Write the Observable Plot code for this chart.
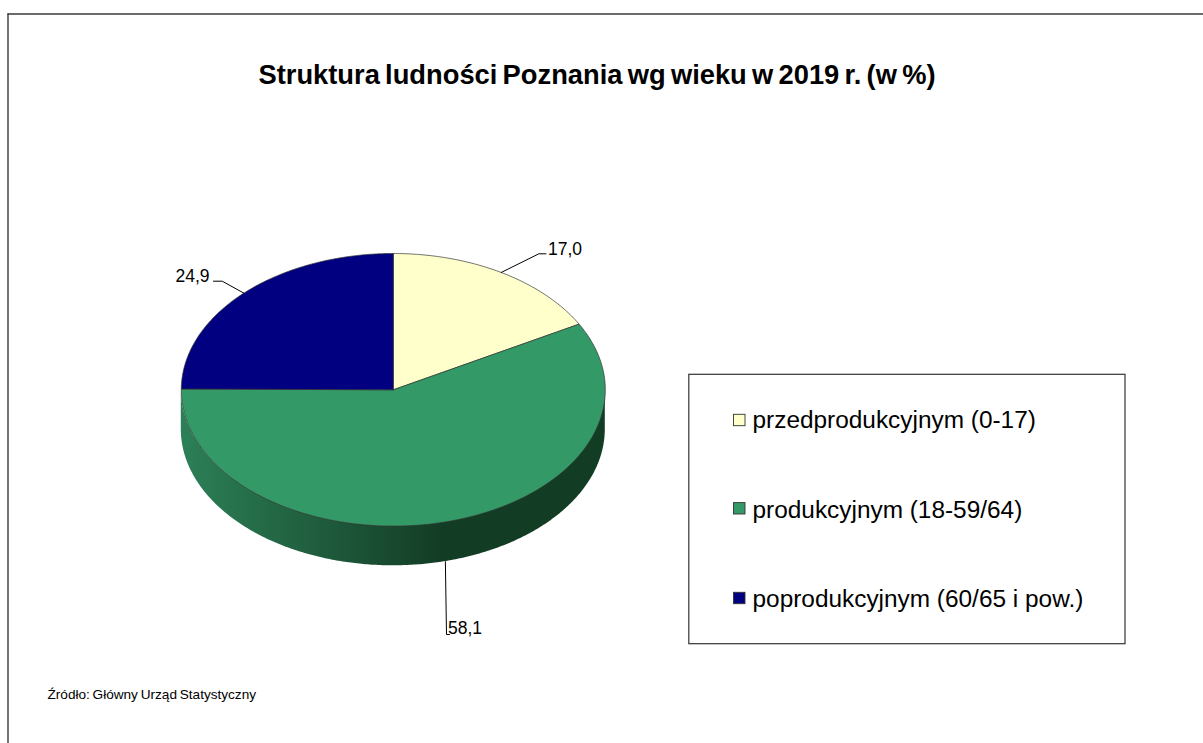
<!DOCTYPE html>
<html lang="pl">
<head>
<meta charset="utf-8">
<title>Struktura ludności Poznania</title>
<script src="https://cdn.jsdelivr.net/npm/d3@7"></script>
<script src="https://cdn.jsdelivr.net/npm/@observablehq/plot@0.6"></script>
<style>
html,body{margin:0;padding:0;background:#fff;overflow:hidden}
svg{display:block}
.title-text{word-spacing:-2.3px}
.source-text{word-spacing:-1px}
</style>
</head>
<body>
<div id="chart"></div>
<script>
const titleText = "Struktura ludności Poznania wg wieku w 2019 r. (w %)";
const sourceText = "Źródło: Główny Urząd Statystyczny";
const categories = ["przedprodukcyjnym (0-17)", "produkcyjnym (18-59/64)", "poprodukcyjnym (60/65 i pow.)"];
const shares = [17.0, 58.1, 24.9];
const shareLabels = ["17,0", "58,1", "24,9"];
const colors = ["#ffffcc", "#339966", "#000080"];

// pie geometry (the chart is laid out in page pixels)
const cx = 392.8, cy = 389.3, rx = 212, ry = 136.3, depth = 39.7;
const px = a => cx + rx * Math.sin(a);
const py = a => cy - ry * Math.cos(a);
const total = d3.sum(shares);
let acc = 0;
const slices = categories.map((c, i) => {
  const a0 = acc / total * 2 * Math.PI;
  acc += shares[i];
  return {category: c, label: shareLabels[i], a0, a1: acc / total * 2 * Math.PI};
});
const slicePoints = slices.flatMap(s => {
  const n = Math.max(2, Math.ceil((s.a1 - s.a0) / 0.01));
  const arc = d3.range(n + 1).map(k => {
    const a = s.a0 + (s.a1 - s.a0) * k / n;
    return {category: s.category, x: px(a), y: py(a)};
  });
  const hub = {category: s.category, x: cx, y: cy};
  return [hub, ...arc, hub];
});
const wallPoints = d3.range(0, 315).map(k => {
  const a = Math.PI / 2 + k * 0.01;
  return {x: px(a), y1: py(a), y2: py(a) + depth};
});
wallPoints.push({x: px(1.5 * Math.PI), y1: py(1.5 * Math.PI), y2: py(1.5 * Math.PI) + depth});

// leader lines run from the middle of each slice's rim to its label
const mid = s => (s.a0 + s.a1) / 2;
const leaders = [
  {id: 0, pts: [[px(mid(slices[0])), py(mid(slices[0]))], [538.3, 253.3], [545.5, 253.3]]},
  {id: 1, pts: [[px(mid(slices[1])), py(mid(slices[1])) + depth], [446, 634], [449, 634]]},
  {id: 2, pts: [[px(mid(slices[2])), py(mid(slices[2]))], [221.7, 280.7], [213, 280.7]]}
].flatMap(l => l.pts.map(([x, y]) => ({id: l.id, x, y})));
const labelsStart = [
  {t: shareLabels[0], x: 547.5, y: 249},
  {t: shareLabels[1], x: 447.5, y: 627.5}
];
const labelsEnd = [{t: shareLabels[2], x: 209, y: 276}];
const legendRows = categories.map((c, i) => ({category: c, y: [420, 508.3, 598][i], ty: [420, 510, 599][i]}));

const defsMark = () => {
  const defs = d3.create("svg:defs");
  const g = defs.append("linearGradient").attr("id", "wall")
    .attr("gradientUnits", "userSpaceOnUse")
    .attr("x1", cx - rx).attr("x2", cx + 50).attr("y1", 0).attr("y2", 0);
  g.append("stop").attr("offset", "0%").attr("stop-color", "#2c8057");
  g.append("stop").attr("offset", "100%").attr("stop-color", "#133c25");
  return defs.node();
};

const font = "'Liberation Sans', Arial, sans-serif";
const plot = Plot.plot({
  width: 1203, height: 743,
  marginTop: 0, marginRight: 0, marginBottom: 0, marginLeft: 0,
  x: {domain: [0, 1203], range: [0, 1203], axis: null},
  y: {domain: [0, 743], range: [0, 743], axis: null},
  color: {domain: categories, range: colors},
  style: {fontFamily: font, background: "#fff", color: "#000"},
  marks: [
    defsMark,
    // outer frame
    Plot.ruleY([13.5], {stroke: "#3a3a3a", strokeWidth: 1.4, x1: 7.5, x2: 1203}),
    Plot.ruleX([7.5], {stroke: "#3a3a3a", strokeWidth: 1.4, y1: 13.5, y2: 743}),
    // title
    Plot.text([titleText], {text: d => d, x: 596.5, y: 75, fontSize: 27.3, fontWeight: "bold", fill: "#000", textAnchor: "middle", className: "title-text"}),
    // pie wall and top
    Plot.areaY(wallPoints, {x: "x", y1: "y1", y2: "y2", fill: "url(#wall)", curve: "linear"}),
    Plot.line(slicePoints, {x: "x", y: "y", z: "category", fill: "category", stroke: "#333", strokeWidth: 0.7, curve: "linear"}),
    // leaders and value labels
    Plot.line(leaders, {x: "x", y: "y", z: "id", stroke: "#000", strokeWidth: 1, curve: "linear"}),
    Plot.text(labelsStart, {x: "x", y: "y", text: "t", textAnchor: "start", fontSize: 17.5, fill: "#000"}),
    Plot.text(labelsEnd, {x: "x", y: "y", text: "t", textAnchor: "end", fontSize: 17.5, fill: "#000"}),
    // legend
    Plot.rect([0], {x1: 688.8, x2: 1125, y1: 374.3, y2: 643.7, fill: "#fff", stroke: "#333", strokeWidth: 1.2}),
    Plot.rect(legendRows, {x1: 733.5, x2: 745, y1: d => d.y - 5.7, y2: d => d.y + 5.7, fill: "category", stroke: "#333", strokeWidth: 0.9}),
    Plot.text(legendRows, {x: 752, y: "ty", text: "category", textAnchor: "start", fontSize: 24.4, fill: "#000"}),
    // source
    Plot.text([sourceText], {text: d => d, x: 47, y: 694, textAnchor: "start", fontSize: 13.6, fill: "#000", className: "source-text"})
  ]
});
document.getElementById("chart").append(plot);
</script>
</body>
</html>
